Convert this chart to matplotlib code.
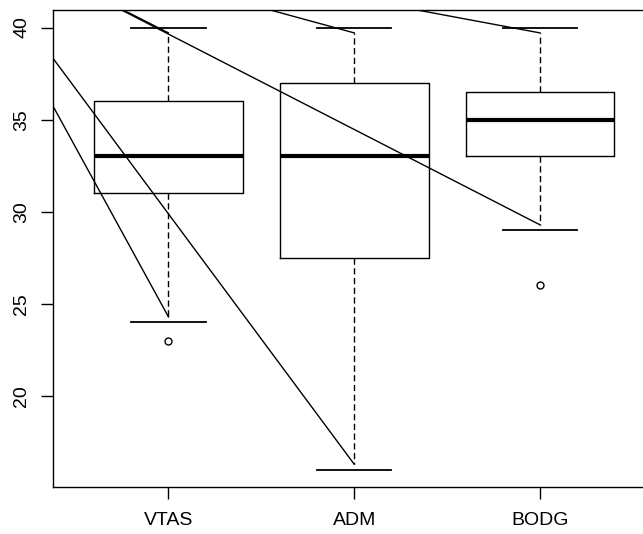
import matplotlib
matplotlib.use("Agg")
import matplotlib.pyplot as plt
import numpy as np

# box statistics
groups = ["VTAS", "ADM", "BODG"]
positions = [1, 2, 3]
whisker_lo = [24, 16, 29]
q1 = [31, 27.5, 33]
medians = [33, 33, 35]
q3 = [36, 37, 36.5]
whisker_hi = [40, 40, 40]
outliers = [[23], [], [26]]

# stray lines all start from one point off the plot, end at the whisker ends
stray_origin = (-0.16, 45.65)

plt.rcParams['font.family'] = ['Liberation Sans', 'DejaVu Sans']

fig = plt.figure(figsize=(6.43, 5.34), dpi=100)
ax = fig.add_axes([0.0829, 0.0875, 0.936, 0.894])

box_half = 0.4
cap_half = 0.2
gap = 0.29  # dashed whisker stops a bit short of the cap

for i, x in enumerate(positions):
    # box
    ax.plot([x - box_half, x + box_half, x + box_half, x - box_half, x - box_half],
            [q1[i], q1[i], q3[i], q3[i], q1[i]], color='black', lw=1)
    ax.plot([x - box_half, x + box_half], [medians[i], medians[i]],
            color='black', lw=3, solid_capstyle='butt')
    # whiskers
    lo_end = whisker_lo[i] + gap
    hi_end = whisker_hi[i] - gap
    ax.plot([x, x], [q1[i], lo_end], color='black', lw=1, linestyle=(0, (4.5, 2.5)))
    ax.plot([x, x], [q3[i], hi_end], color='black', lw=1, linestyle=(0, (4.5, 2.5)))
    ax.plot([x - cap_half, x + cap_half], [whisker_lo[i], whisker_lo[i]], color='black', lw=1.3)
    ax.plot([x - cap_half, x + cap_half], [whisker_hi[i], whisker_hi[i]], color='black', lw=1.3)
    # outliers
    if outliers[i]:
        ax.plot([x] * len(outliers[i]), outliers[i], 'o', mfc='none', mec='black',
                ms=5, mew=1)
    # stray lines
    for y_end in (lo_end, hi_end):
        ax.plot([stray_origin[0], x], [stray_origin[1], y_end], color='black', lw=1)

ax.set_xlim(0.38, 3.62)
ax.set_ylim(15.04, 40.96)
ax.set_xticks(positions)
ax.set_xticklabels(groups)
ax.set_yticks([20, 25, 30, 35, 40])
ax.spines['right'].set_visible(False)
for s in ['left', 'bottom', 'top']:
    ax.spines[s].set_linewidth(1)
ax.tick_params(axis='both', length=8.5, width=1, labelsize=14)
ax.tick_params(axis='x', pad=9.5)
ax.tick_params(axis='y', pad=8)
for t in ax.get_yticklabels():
    t.set_rotation(90)
    t.set_va('center')

fig.savefig("out.png", dpi=100)
